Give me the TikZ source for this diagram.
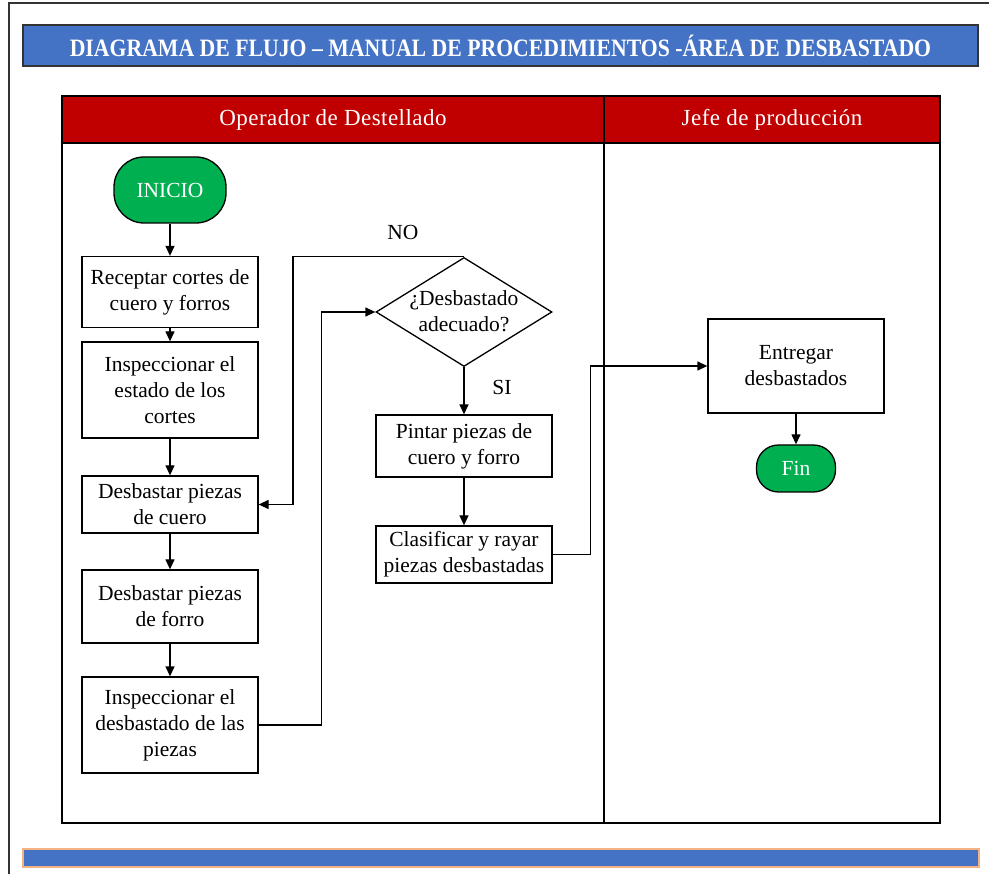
\documentclass[tikz,border=0pt]{standalone}
\usepackage{fontspec}
\setmainfont{Liberation Serif}
\newfontfamily\titlefont{Liberation Serif}[FakeStretch=0.87]
\newfontfamily\lanefont{Liberation Serif}[LetterSpace=2]
\usetikzlibrary{arrows.meta,shapes.geometric}
\definecolor{titleblue}{HTML}{4472C4}
\definecolor{lanered}{HTML}{C00000}
\definecolor{startgreen}{HTML}{00B050}
\definecolor{barorange}{HTML}{F4B183}
\definecolor{framegray}{HTML}{333333}

\begin{document}
\begin{tikzpicture}[x=1pt,y=-1pt,
  every node/.style={font=\fontsize{21.5}{26}\selectfont},
  stepbox/.style={draw, line width=1.3pt, fill=white, minimum width=176pt,
    align=center, inner sep=2pt},
  terminal/.style={draw, line width=1.3pt, fill=startgreen, text=white,
    inner sep=0pt},
  decision/.style={draw, diamond, line width=1.3pt, minimum width=176pt,
    minimum height=109pt, inner sep=0pt},
  lanehead/.style={text=white, font=\lanefont\fontsize{23}{27}\selectfont},
  arr/.style={line width=1.3pt, -{Triangle[length=10pt,width=9pt]}},
  ]
\useasboundingbox (0,0) rectangle (989,874);

% page frame (top and left edges)
\draw[framegray, line width=1.6pt] (9,874) -- (9,3) -- (989,3);

% title bar
\draw[framegray, line width=1.3pt, fill=titleblue] (23,25) rectangle (978,66);
\node[text=white, font=\titlefont\bfseries\fontsize{25}{28}\selectfont]
  (title) at (500.5,45.5) {DIAGRAMA DE FLUJO – MANUAL DE PROCEDIMIENTOS -ÁREA DE DESBASTADO};

% swimlanes
\draw[line width=1.4pt, fill=lanered] (62,96) rectangle (940,143);
\draw[line width=1.4pt] (62,143) rectangle (940,823);
\draw[line width=2.6pt] (604,96) -- (604,823);
\node[lanehead] (laneA) at (333,119.5) {Operador de Destellado};
\node[lanehead] (laneB) at (772,119.5) {Jefe de producción};

% bottom bar
\draw[barorange, line width=1.2pt, fill=titleblue] (23,849) rectangle (979,867);

% steps
\node[terminal, minimum width=112pt, minimum height=66pt, rounded corners=30pt]
  (inicio) at (170,190) {INICIO};
\node[stepbox, minimum height=71pt] (recep) at (170,292) {Receptar cortes de\\cuero y forros};
\node[stepbox, minimum height=96pt] (insp1) at (170,390) {Inspeccionar el\\estado de los\\cortes};
\node[stepbox, minimum height=57pt] (desb1) at (170,504.5) {Desbastar piezas\\de cuero};
\node[stepbox, minimum height=73pt] (desb2) at (170,606.5) {Desbastar piezas\\de forro};
\node[stepbox, minimum height=96pt] (insp2) at (170,725) {Inspeccionar el\\desbastado de las\\piezas};

\node[decision] (dec) at (464,312) {};
\node[align=center] (decq) at (464,311) {¿Desbastado\\adecuado?};

\node[stepbox, minimum height=62pt] (pint) at (464,446) {Pintar piezas de\\cuero y forro};
\node[stepbox, minimum height=57pt] (clas) at (464,554.5) {Clasificar y rayar\\piezas desbastadas};

\node[stepbox, minimum height=94pt] (entr) at (796,366) {Entregar\\desbastados};
\node[terminal, minimum width=79pt, minimum height=47pt, rounded corners=22pt]
  (fin) at (796,468.5) {Fin};

% labels on the decision branches
\node (lblno) at (403,232) {NO};
\node (lblsi) at (502,387) {SI};

% connectors
\draw[arr] (inicio.south) -- (recep.north);
\draw[arr] (recep.south) -- (insp1.north);
\draw[arr] (insp1.south) -- (desb1.north);
\draw[arr] (desb1.south) -- (desb2.north);
\draw[arr] (desb2.south) -- (insp2.north);
\draw[arr] (insp2.east) -- ++(63,0) |- (dec.west);
\draw[arr] (dec.north) -- ++(-171,0) |- (desb1.east);
\draw[arr] (dec.south) -- (pint.north);
\draw[arr] (pint.south) -- (clas.north);
\draw[arr] (clas.east) -- ++(38,0) |- (entr.west);
\draw[arr] (entr.south) -- (fin.north);
\end{tikzpicture}
\end{document}
